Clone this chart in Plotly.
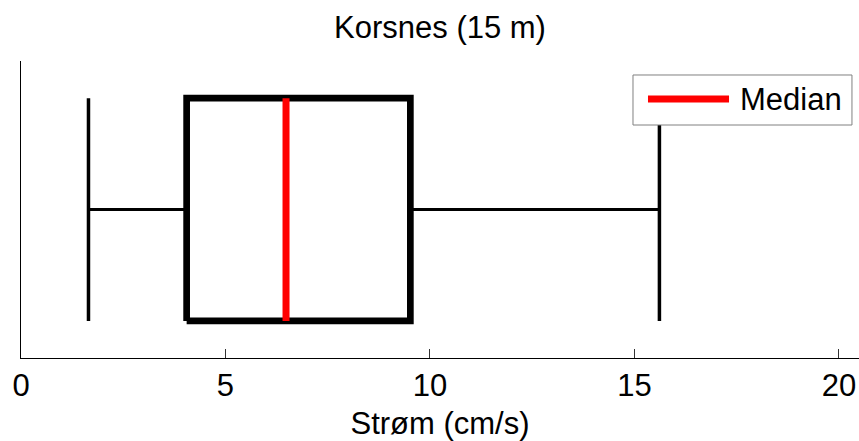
import plotly.graph_objects as go

# Box statistics (cm/s)
category = [1]
whisker_low = [1.65]
q1 = [4.05]
median = [6.48]
q3 = [9.52]
whisker_high = [15.61]
legend_label = "Median"
x_ticks = [0, 5, 10, 15, 20]

FS = 31
h = 0.375  # half height of box
c = category[0]
lo, a, m, b, hi = whisker_low[0], q1[0], median[0], q3[0], whisker_high[0]

fig = go.Figure()
# whisker stems
fig.add_trace(go.Scatter(x=[lo, a, None, b, hi], y=[c, c, None, c, c], mode="lines",
                         line=dict(color="black", width=3), showlegend=False, hoverinfo="skip"))
# whisker caps
fig.add_trace(go.Scatter(x=[lo, lo, None, hi, hi], y=[c - h, c + h, None, c - h, c + h], mode="lines",
                         line=dict(color="black", width=3.5), showlegend=False, hoverinfo="skip"))
# box
fig.add_trace(go.Scatter(x=[a, b, b, a, a], y=[c - h, c - h, c + h, c + h, c - h], mode="lines",
                         line=dict(color="black", width=6.7), showlegend=False, hoverinfo="skip"))
# median
fig.add_trace(go.Scatter(x=[m, m], y=[c - h, c + h], mode="lines", name=legend_label,
                         line=dict(color="#ff0000", width=7), showlegend=False))

# manual legend box (MATLAB style)
fig.add_shape(type="rect", xref="paper", yref="paper", x0=0.7303, x1=0.9916, y0=0.7845, y1=0.9529,
              line=dict(color="#808080", width=1), fillcolor="white", layer="above")
fig.add_shape(type="line", xref="paper", yref="paper", x0=0.7482, x1=0.8449, y0=0.872, y1=0.872,
              line=dict(color="#ff0000", width=7), layer="above")
fig.add_annotation(xref="paper", yref="paper", x=0.856, y=0.872, xanchor="left", yanchor="middle",
                   text=legend_label, showarrow=False, font=dict(size=FS, color="black"))

fig.update_layout(
    width=859, height=441,
    margin=dict(l=21, r=0, t=61, b=83),
    paper_bgcolor="white", plot_bgcolor="white",
    font=dict(family="Liberation Sans, Arial, sans-serif", size=FS, color="black"),
    title=dict(text="Korsnes (15 m)", x=0.5, xref="paper", xanchor="center",
               y=1 - 27 / 441, yref="container", yanchor="middle", font=dict(size=FS)),
    showlegend=False,
)
fig.update_xaxes(range=[0, 20.49], tickvals=x_ticks, ticktext=[str(t) for t in x_ticks],
                 ticks="inside", ticklen=9, tickcolor="#333", tickwidth=1, tickfont=dict(size=FS),
                 showline=True, linecolor="black", linewidth=1, showgrid=False, zeroline=False,
                 title=dict(text="Strøm (cm/s)", standoff=11, font=dict(size=FS)), automargin=False)
fig.update_yaxes(range=[0.5, 1.5], showticklabels=False, ticks="", showline=True,
                 linecolor="black", linewidth=1, showgrid=False, zeroline=False, automargin=False)

fig.write_html("out.html")
